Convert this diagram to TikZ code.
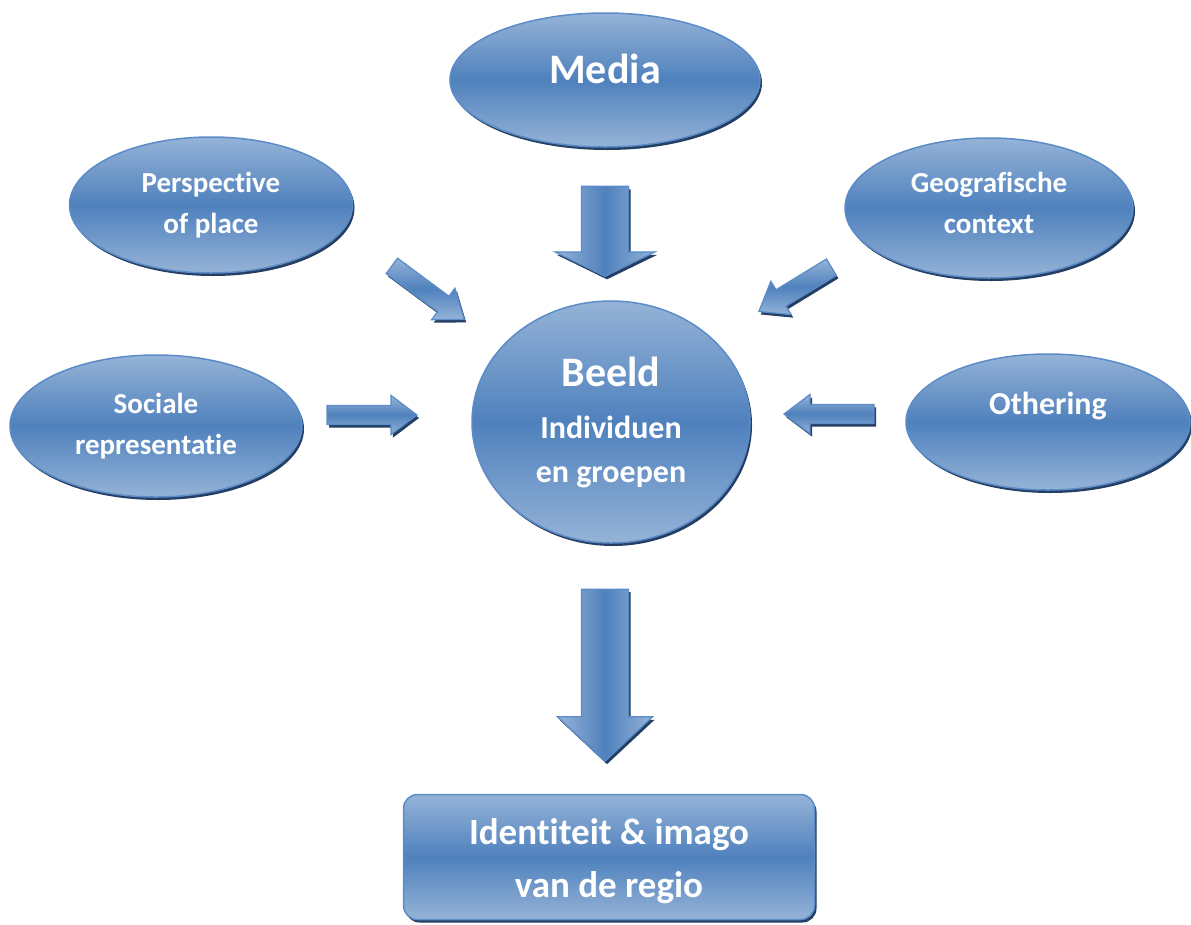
\documentclass[tikz,border=0pt]{standalone}
\usepackage{fontspec}
\setmainfont{Carlito}[Ligatures=NoCommon]
\usetikzlibrary{shapes.geometric,shapes.arrows,shadows}

\definecolor{lightblue}{HTML}{95B3D7}
\definecolor{midblue}{HTML}{4F81BD}
\definecolor{rimblue}{HTML}{5B8CC8}
\definecolor{shadeblue}{HTML}{243F63}

\newcommand\fsz[2]{\fontsize{#1}{#2}\selectfont}

\tikzset{
  darkshadow/.style={drop shadow={shadow xshift=2pt, shadow yshift=-3pt, fill=shadeblue, opacity=1}},
  bubble/.style={ellipse, draw=rimblue, line width=1.5pt, top color=lightblue, bottom color=lightblue,
    middle color=midblue, darkshadow, text=white, font=\bfseries\fsz{29}{41}, align=center, inner sep=0pt},
  fat/.style={single arrow, draw=rimblue, line width=1.2pt, top color=lightblue, bottom color=lightblue,
    middle color=midblue, darkshadow, inner xsep=0pt, single arrow head indent=0pt, anchor=tip},
  small/.style={fat, minimum height=90, inner ysep=9pt, single arrow head extend=10, single arrow tip angle=74},
  down/.style={fat, left color=lightblue, right color=lightblue, middle color=midblue, rotate=-90, inner ysep=23pt},
}

\begin{document}
\begin{tikzpicture}[x=1pt, y=1pt]
\useasboundingbox (0,0) rectangle (1191,-924);

% outer ellipses
\node[bubble, minimum width=310, minimum height=134] (media) at (605,-80) {};
\node[text=white, font=\bfseries\fsz{42}{50}] (medialabel) at ([yshift=11]media.center) {Media};
\node[bubble, minimum width=283, minimum height=136] (persp) at (211,-205) {Perspective\\of place};
\node[bubble, minimum width=288, minimum height=140] (geo) at (989,-208) {};
\node[text=white, font=\bfseries\fsz{29}{41}, align=center] (geolabel) at ([yshift=5]geo.center) {Geografische\\context};
\node[bubble, minimum width=292, minimum height=142] (soc) at (156,-426) {Sociale\\representatie};
\node[bubble, minimum width=284, minimum height=136] (oth) at (1048,-422) {};
\node[text=white, font=\bfseries\fsz{32}{40}] (othlabel) at ([yshift=16]oth.center) {Othering};

% centre
\node[bubble, minimum width=278, minimum height=242, font=\bfseries\fsz{32}{44}] (beeld) at (611,-422)
  {{\fsz{42}{49}Beeld}\\[8pt]Individuen\\en groepen};

% result
\node[draw=rimblue, line width=1.5pt, rounded corners=14pt, top color=lightblue, bottom color=lightblue,
  middle color=midblue, darkshadow, minimum width=411, minimum height=125] (regio) at (609,-857) {};
\node[text=white, font=\bfseries\fsz{37}{53}, align=center] (regiolabel) at ([yshift=-4]regio.center)
  {Identiteit \& imago\\van de regio};

% block arrows, placed by their tips
\node[down, minimum height=90, single arrow head extend=26.5, single arrow tip angle=128] (amedia) at (605,-277) {};
\node[small, rotate=-36.5] (apersp) at (465,-320) {};
\node[small, rotate=-148.6, minimum height=85] (ageo) at (758,-312) {};
\node[small] (asoc) at (418,-415) {};
\node[small, rotate=180] (aoth) at (783,-414) {};
\node[down, minimum height=172, single arrow head extend=24, single arrow tip angle=94] (aregio) at (605,-762) {};

\end{tikzpicture}
\end{document}
